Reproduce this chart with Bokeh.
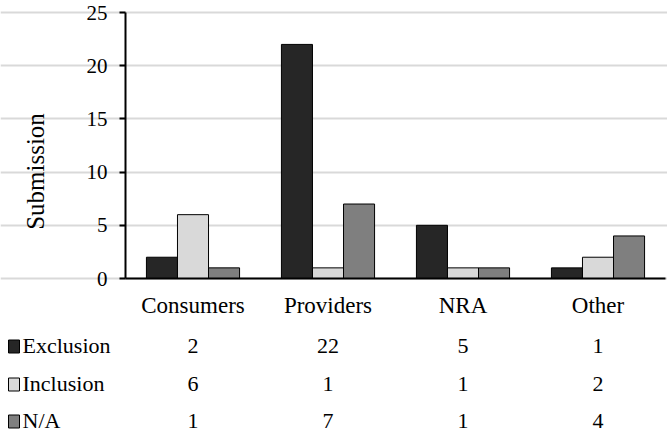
import math
from bokeh.plotting import figure
from bokeh.models import Range1d, ColumnDataSource, FixedTicker, LinearAxis, Grid, LabelSet, Label
from bokeh.embed import file_html
from bokeh.resources import INLINE

categories = ["Consumers", "Providers", "NRA", "Other"]
series = ["Exclusion", "Inclusion", "N/A"]
exclusion = [2, 22, 5, 1]
inclusion = [6, 1, 1, 2]
na = [1, 7, 1, 4]
colors = ["#262626", "#d9d9d9", "#7f7f7f"]
y_ticks = [0, 5, 10, 15, 20, 25]
y_title = "Submission"

FONT = "Liberation Serif"
W, H = 667, 440
LEFT, RIGHT_PAD, TOP = 125, 2, 12
FRAME_BOTTOM = 278
YMAX = 25
cat_px = (W - LEFT - RIGHT_PAD) / len(categories)
ppu = (FRAME_BOTTOM - TOP) / YMAX

def xd(px):
    return (px - LEFT) / cat_px

def yd(px):
    return (FRAME_BOTTOM - px) / ppu

p = figure(width=W, height=H, x_range=Range1d(xd(0), xd(W)), y_range=Range1d(yd(H), yd(0)),
           output_backend="svg", toolbar_location=None,
           x_axis_location=None, y_axis_location=None,
           min_border_left=0, min_border_right=0, min_border_top=0, min_border_bottom=0)
p.outline_line_color = None
p.grid.visible = False

centers = [i + 0.5 for i in range(len(categories))]

p.add_layout(Grid(dimension=1, ticker=FixedTicker(ticks=y_ticks), bounds=(0, len(categories)),
                  grid_line_color="#d9d9d9", grid_line_width=2))

bw = 0.23
for i, (vals, col) in enumerate(zip([exclusion, inclusion, na], colors)):
    p.vbar(x=[c + (i - 1) * bw for c in centers], top=vals, width=bw, bottom=0,
           fill_color=col, line_color="black", line_width=1)

yaxis = LinearAxis(fixed_location=0, bounds=(0, YMAX), ticker=FixedTicker(ticks=y_ticks),
                   axis_line_width=2, axis_line_color="black",
                   major_tick_out=6, major_tick_in=0, major_tick_line_width=2,
                   minor_tick_line_color=None,
                   major_label_text_font=FONT, major_label_text_font_size="21px",
                   major_label_text_color="black", major_label_standoff=12)
p.add_layout(yaxis, "left")

xaxis = LinearAxis(fixed_location=0, bounds=(0, len(categories)),
                   ticker=FixedTicker(ticks=centers),
                   major_label_overrides={c: n for c, n in zip(centers, categories)},
                   axis_line_width=2, axis_line_color="black",
                   major_tick_line_color=None, minor_tick_line_color=None,
                   major_label_text_font=FONT, major_label_text_font_size="23px",
                   major_label_text_color="black", major_label_standoff=8)
p.add_layout(xaxis, "below")

p.add_layout(Label(x=xd(35), y=yd(171), text=y_title, angle=math.pi / 2,
                   text_font=FONT, text_font_size="25px", text_color="black",
                   text_align="center", text_baseline="middle"))

# data table below the chart
row_px = [345, 383, 420]
for vals, name, col, rp in zip([exclusion, inclusion, na], series, colors, row_px):
    ry = yd(rp)
    tsrc = ColumnDataSource(dict(x=centers, y=[ry] * len(vals), t=[str(v) for v in vals]))
    p.add_layout(LabelSet(x="x", y="y", text="t", source=tsrc, text_font=FONT,
                          text_font_size="22px", text_align="center",
                          text_baseline="middle", text_color="black"))
    p.rect(x=[xd(13.5)], y=[yd(rp + 1)], width=11, height=13,
           width_units="screen", height_units="screen",
           fill_color=col, line_color="black", line_width=1)
    lsrc = ColumnDataSource(dict(x=[xd(22)], y=[ry], t=[name]))
    p.add_layout(LabelSet(x="x", y="y", text="t", source=lsrc, text_font=FONT,
                          text_font_size="22px", text_align="left",
                          text_baseline="middle", text_color="black"))

open("out.html", "w").write(file_html(p, INLINE))
